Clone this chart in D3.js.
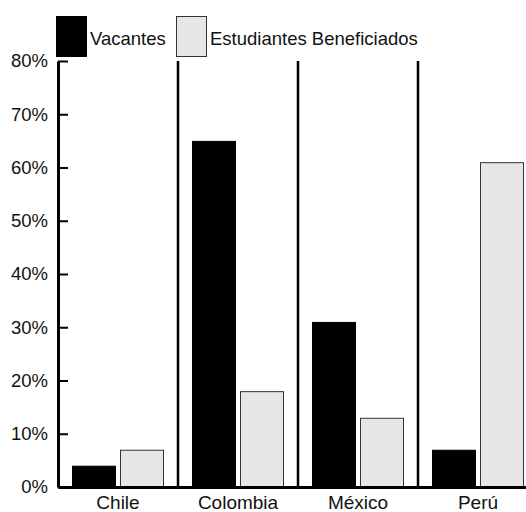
<!DOCTYPE html>
<html>
<head>
<meta charset="utf-8">
<script src="https://cdn.jsdelivr.net/npm/d3@7"></script>
<style>
  body { margin: 0; background: #fff; }
  svg { display: block; font-family: "Liberation Sans", Arial, sans-serif; }
</style>
</head>
<body>
<svg width="526" height="512"></svg>
<script>
const countries = ["Chile", "Colombia", "México", "Perú"];
const seriesNames = ["Vacantes", "Estudiantes Beneficiados"];
const vacantes = [4, 65, 31, 7];
const estudiantes = [7, 18, 13, 61];
const yTicks = [0, 10, 20, 30, 40, 50, 60, 70, 80];

const colors = ["#000000", "#e6e6e6"];

const svg = d3.select("svg");

const x = d3.scaleBand().domain(countries).range([58, 538]);
const y = d3.scaleLinear().domain([0, 80]).range([487, 61]);

const barW = 43;
const barGap = 5;
const barStart = 14;

const rows = countries.map((c, i) => ({ name: c, values: [vacantes[i], estudiantes[i]] }));

// separators between countries
svg.append("g")
  .selectAll("line")
  .data(countries.slice(1))
  .join("line")
  .attr("x1", d => x(d))
  .attr("x2", d => x(d))
  .attr("y1", y(80))
  .attr("y2", y(0))
  .attr("stroke", "#000")
  .attr("stroke-width", 2.5);

// bars
const groups = svg.append("g")
  .selectAll("g")
  .data(rows)
  .join("g")
  .attr("transform", d => `translate(${x(d.name) + barStart},0)`);

groups.selectAll("rect")
  .data(d => d.values)
  .join("rect")
  .attr("x", (v, j) => j * (barW + barGap) + 0.5)
  .attr("y", v => y(v) + 0.5)
  .attr("width", barW)
  .attr("height", v => y(0) - y(v))
  .attr("fill", (v, j) => colors[j])
  .attr("stroke", (v, j) => j ? "#333" : "#000")
  .attr("stroke-width", 1);

// y axis
const yAxis = d3.axisLeft(y)
  .tickValues(yTicks)
  .tickFormat(d => `${d}%`)
  .tickSizeInner(-10)
  .tickSizeOuter(0)
  .tickPadding(10);

const gy = svg.append("g")
  .attr("transform", "translate(58,0)")
  .call(yAxis);
gy.select(".domain").attr("stroke", "#000").attr("stroke-width", 3);
gy.selectAll(".tick line").attr("stroke", "#000").attr("stroke-width", 2);
gy.selectAll(".tick text")
  .attr("fill", "#111")
  .style("font-size", "18.5px")
  .style("font-family", "'Liberation Sans', Arial, sans-serif");

// x axis
const xAxis = d3.axisBottom(x).tickSize(0).tickPadding(9);
const gx = svg.append("g")
  .attr("transform", `translate(0,${y(0)})`)
  .call(xAxis);
gx.select(".domain").attr("stroke", "#000").attr("stroke-width", 3);
gx.selectAll(".tick text")
  .attr("fill", "#111")
  .style("font-size", "19px")
  .style("font-family", "'Liberation Sans', Arial, sans-serif");

// legend
const legendX = [56, 176];
const legend = svg.append("g")
  .selectAll("g")
  .data(seriesNames)
  .join("g")
  .attr("transform", (d, i) => `translate(${legendX[i]},16)`);

legend.append("rect")
  .attr("x", 0.5)
  .attr("y", 0.5)
  .attr("width", 30)
  .attr("height", 40)
  .attr("fill", (d, i) => colors[i])
  .attr("stroke", (d, i) => i ? "#333" : "#000");

legend.append("text")
  .attr("x", 34)
  .attr("y", 29)
  .attr("fill", "#111")
  .style("font-size", "18.5px")
  .text(d => d);
</script>
</body>
</html>
